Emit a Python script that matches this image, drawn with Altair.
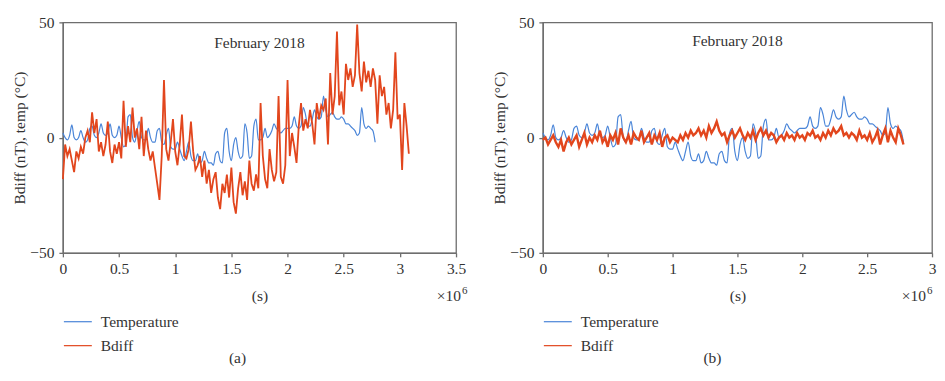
import altair as alt
import pandas as pd

# sample spacing of all series, in units of 10^6 s
STEP = 0.02

SERIES = ["Temperature", "Bdiff"]
COLORS = ["#4a85d8", "#e2461d"]
PANEL_TITLE = "February 2018"
PANEL_TAGS = ["(a)", "(b)"]
X_TICKS_A = [0, 0.5, 1, 1.5, 2, 2.5, 3, 3.5]
X_TICKS_B = [0, 0.5, 1, 1.5, 2, 2.5, 3]
Y_TICKS = [-50, 0, 50]
X_TITLE = "(s)"
X_EXP_BASE = "×10"
X_EXP_POW = "6"
Y_TITLE = "Bdiff (nT), temp (°C)"

# Temperature (°C), same sensor in both panels
TEMPERATURE = [
    2, 0, -1, 1, 5.5, 0, -1, 0, 3, 0,
    -2, -1, 4, 5, 1, 0, 2, 6, 2, 1,
    2, 6, 1, 0, 1, 5, 0, -4, -3, 9,
    10, 0, -2, 3, 7, 0, -1, -1, 4, 0,
    -2, -2, 3, 4, -2, -3, 1, 4, -4, -5,
    -5, -2, -5, -8, -10, -6, -2, -8, -10, -10,
    -7, -11, -10, -6, -9, -11, -11, -12, -7, -6,
    -10, -11, 2, 4, -6, -10, -3, 0, -6, -9,
    -8, 6, 2, -9, -8, 5, 8, -1, -1, 0,
    4, 0, 1, 3, 6, 4, 3, 2, 3, 4,
    4, 4, 5, 9, 5, 4, 5, 13, 10, 5,
    5, 8, 12, 9, 8, 9, 18, 12, 9, 10,
    11, 9, 8, 8, 9, 8, 6, 6, 5, 4,
    3, 1, 2, 13, 6, 4, 5, 4, 3, -2,
]

# Bdiff (nT), panel (a)
BDIFF_A = [
    -18, -3, -8, -5, -10, -15, -6, -9, -4, -7,
    0, 3, -2, 11, 2, 8, -6, -2, -8, -3,
    7, -6, -11, -3, -7, -2, -9, 16, -4, 5,
    -2, 13, 0, 4, -5, 9, -8, 3, -5, -10,
    -6, -13, -20, -27, -8, 25, -5, -10, -2, 8,
    -6, -12, -3, 10, -8, -9, -5, 7, -6, -14,
    -12, -8, -17, -10, -20, -14, -24, -18, -15, -26,
    -31, -20, -24, -16, -26, -13, -28, -33, -22, -15,
    -25, -19, -27, -10, -20, -23, -16, -22, 15, -8,
    -18, -22, -5, -14, -19, -15, 18, -17, -20, -12,
    25, -8, 2, -4, -11, 5, 15, 3, 8, 4,
    12, 6, -3, 15, 8, 14, 12, 17, -3, 28,
    10, 18, 46, 14, 20, 10, 32, 25, 30, 22,
    27, 49, 28, 20, 33, 24, 29, 22, 30, 25,
    6, 27, 18, 22, 10, 15, 4, 12, 37, 8,
    10, -14, 15, 5, -7,
]

# Bdiff (nT), panel (b)
BDIFF_B = [
    -1, 0, -3, -1, 1, -2, -4, -1, -6, -2,
    0, -3, -1, 1, -4, -1, 2, -3, 0, -2,
    1, -1, 3, -2, 0, -4, 1, -1, 2, -3,
    4, 0, -2, 1, -3, 2, 0, -1, 3, -2,
    0, 2, -3, 1, -1, 2, -4, 0, 1, -2,
    0, -1, -2, 1, -1, 2, 0, 3, 1, 2,
    4, 1, 3, 0, 5, 2, 4, 7, 3, 1,
    2, -2, 1, 3, 0, 2, 4, 1, -1, 2,
    0, 3, -1, 2, 4, 1, 3, 0, 2, 1,
    -2, 0, 1, -1, 2, 0, 1, -1, 2, 0,
    1, -1, 2, 1, 3, 0, 1, -1, 2, 0,
    3, 1, 4, 2, 3, 5, 1, 2, 0, 2,
    1, -1, 3, 0, 1, -1, 2, -2, 0, 3,
    -3, 1, 4, -2, 3, 0, -2, 4, 1, -3,
]

FONT = "Liberation Serif"
FS = 15.5
GREY = "#6e6e6e"
INK = "#333333"
W_A, W_B, H = 394, 390, 231


def to_frame(temp, bdiff):
    rows = []
    for name, vals in zip(SERIES, [temp, bdiff]):
        for i, v in enumerate(vals):
            rows.append({"t": round(i * STEP, 4), "v": v, "series": name, "k": i})
    return pd.DataFrame(rows)


def text_layer(txt, xpos, ypos, align="center", size=FS):
    return alt.Chart(pd.DataFrame({"s": [txt]})).mark_text(
        font=FONT, fontSize=size, color=INK, align=align, baseline="middle"
    ).encode(text="s:N", x=alt.value(xpos), y=alt.value(ypos))


def panel(temp, bdiff, ticks, tag, bw, w, exp_x, tag_x, title_y):
    df = to_frame(temp, bdiff)
    x = alt.X("t:Q", scale=alt.Scale(domain=[ticks[0], ticks[-1]], nice=False, zero=False),
              axis=alt.Axis(values=ticks, format="~g", title=X_TITLE, titlePadding=11,
                            labelFlush=False))
    y = alt.Y("v:Q", scale=alt.Scale(domain=[-50, 50], nice=False),
              axis=alt.Axis(values=Y_TICKS, title=Y_TITLE, titlePadding=2, labelFlush=False))
    legend = alt.Legend(orient="none", legendX=0, legendY=285, title=None,
                        symbolType="stroke", symbolSize=784,
                        symbolStrokeWidth=1.2, labelFont=FONT,
                        labelFontSize=FS, labelColor=INK,
                        labelOffset=8, rowPadding=-9, padding=0)
    cscale = alt.Scale(domain=SERIES, range=COLORS)
    base = alt.Chart(df)
    temp_line = base.transform_filter(alt.datum.series == SERIES[0]).mark_line(
        interpolate="monotone", strokeWidth=1.2).encode(
        x=x, y=y, color=alt.Color("series:N", scale=cscale, legend=legend), order="k:Q")
    bd_line = base.transform_filter(alt.datum.series == SERIES[1]).mark_line(
        strokeWidth=bw).encode(
        x=x, y=y, color=alt.Color("series:N", scale=cscale, legend=None), order="k:Q")
    return alt.layer(
        temp_line, bd_line,
        text_layer(PANEL_TITLE, w / 2, title_y),
        text_layer(X_EXP_BASE, exp_x, 274, align="right"),
        text_layer(X_EXP_POW, exp_x + 1, 269, align="left", size=11),
        text_layer(tag, tag_x, 336),
    ).properties(width=w, height=H)


left = panel(TEMPERATURE, BDIFF_A, X_TICKS_A, PANEL_TAGS[0], 1.8, W_A, W_A + 5, 175, 21)
right = panel(TEMPERATURE, BDIFF_B, X_TICKS_B, PANEL_TAGS[1], 2.4, W_B, W_B - 6, 170, 19)

chart = alt.hconcat(left, right, spacing=23).resolve_scale(color="independent").properties(
    padding={"left": 4, "top": 6, "right": 0, "bottom": 0}
).configure_view(stroke=GREY, strokeWidth=1.3).configure_axis(
    domainColor=GREY, domainWidth=1.3, tickColor=GREY, tickWidth=1.3, tickSize=4,
    labelFont=FONT, labelFontSize=FS, labelColor=INK, labelPadding=5,
    titleFont=FONT, titleFontSize=FS, titleFontWeight="normal", titleColor=INK, grid=False,
)

chart.save("out.html", embed_options={"renderer": "svg", "actions": False})
